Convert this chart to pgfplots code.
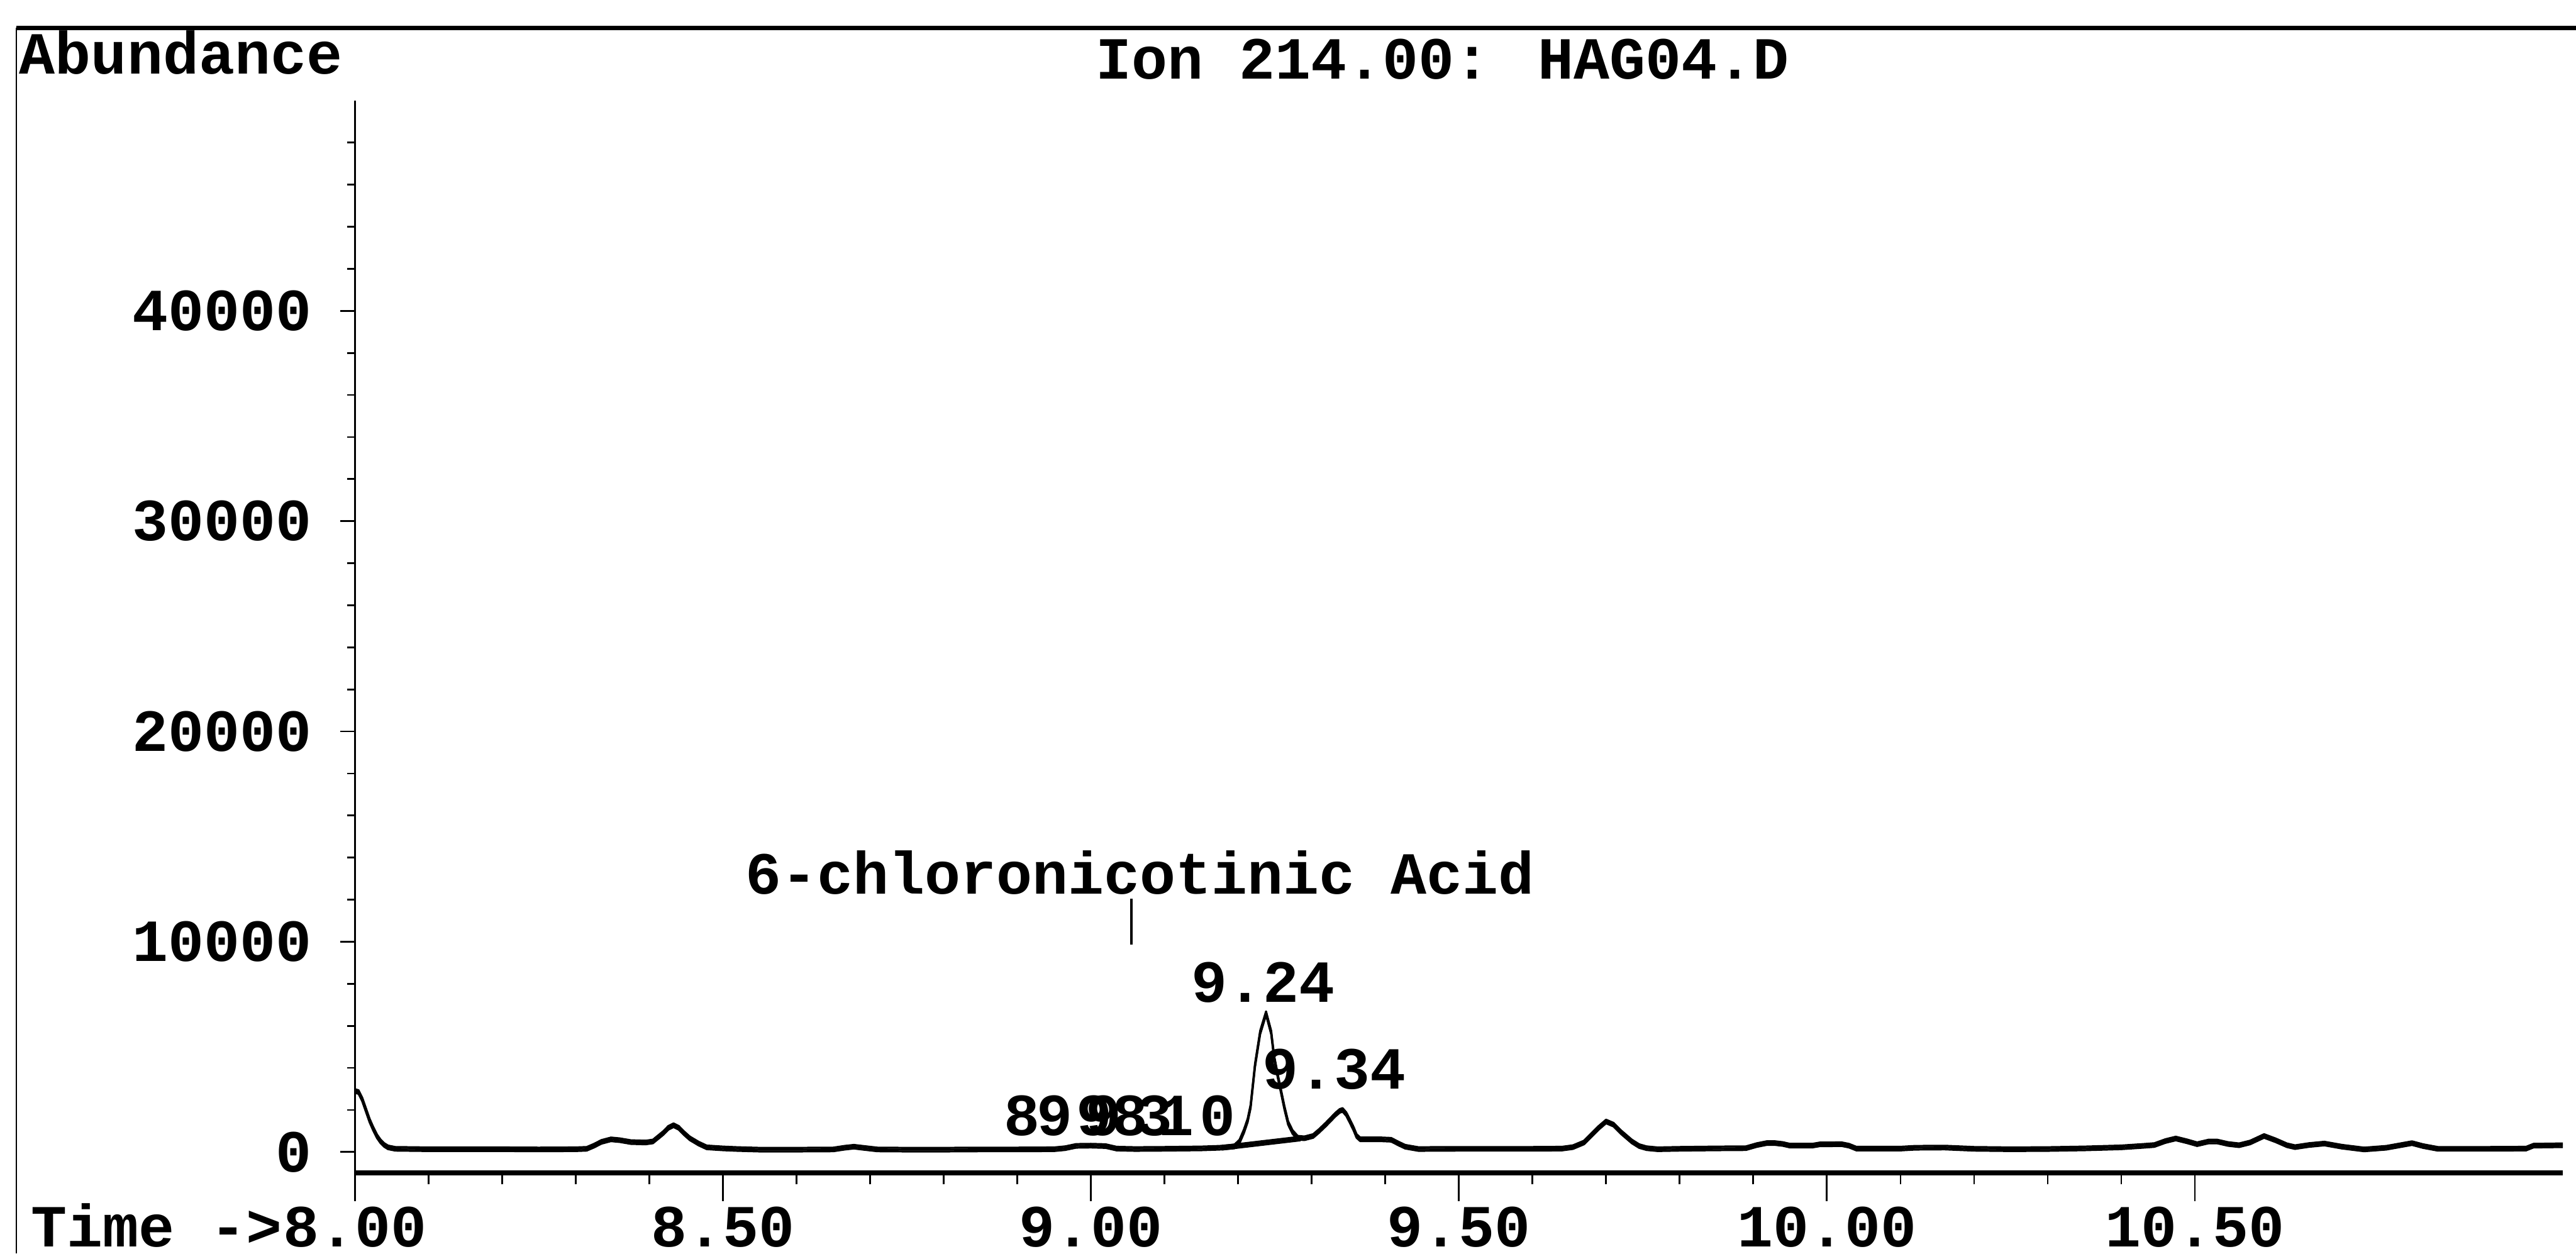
\documentclass[border=0pt]{standalone}
\usepackage{pgfplots}
\pgfplotsset{compat=1.18}
\usepackage{fontspec}
\setmainfont{Liberation Mono}
\begin{document}
\begin{tikzpicture}[font=\fontsize{20.7}{24}\selectfont\bfseries]
\path[use as bounding box] (0,0) rectangle (313.6mm,-152.6mm);
\begin{axis}[
  at={(43.2mm,-142.8mm)}, anchor=south west,
  scale only axis, width=268.8mm, height=130.56mm,
  xmin=8, xmax=11, ymin=-1000, ymax=50000,
  axis x line=bottom, axis y line=left, axis line style={-},
  x axis line style={line width=1.7pt},
  y axis line style={line width=0.6pt},
  xtick={8,8.5,9,9.5,10,10.5},
  xticklabels={8.00,8.50,9.00,9.50,10.00,10.50},
  minor x tick num=4,
  tick align=outside, major tick length=3.4mm, minor tick length=1.4mm,
  xtick style={line width=0.6pt, black},
  ytick={0,10000,20000,30000,40000},
  yticklabels={0,10000,20000,30000,40000},
  scaled y ticks=false, scaled x ticks=false,
  ytick style={draw=none},
  tick label style={font=\fontsize{20.7}{24}\selectfont\bfseries, /pgf/number format/assume math mode=true},
  xticklabel style={anchor=base, inner sep=0pt, yshift=-5.6mm},
  yticklabel style={anchor=east, inner sep=0pt, xshift=-1.8mm},
  clip=false,
]
\addplot[black, line width=0.7pt, line join=round,
  preaction={draw, line width=0.7pt, transform canvas={yshift=-0.22mm}},
  postaction={draw, line width=0.7pt, transform canvas={yshift=0.22mm}}] coordinates {
(8.000,2900) (8.005,2850) (8.010,2500) (8.015,2000) (8.020,1500) (8.025,1100)
(8.030,750) (8.035,500) (8.040,330) (8.045,220) (8.055,150) (8.10,130)
(8.15,130) (8.20,130) (8.25,120) (8.30,130) (8.315,150) (8.325,300)
(8.335,480) (8.348,600) (8.36,560) (8.375,470) (8.395,450) (8.405,500)
(8.412,700) (8.419,900) (8.426,1150) (8.433,1270) (8.440,1150) (8.447,900)
(8.455,650) (8.467,400) (8.478,220) (8.50,170) (8.52,140) (8.55,110)
(8.60,110) (8.65,120) (8.665,200) (8.678,250) (8.69,200) (8.71,120)
(8.75,110) (8.80,110) (8.85,120) (8.90,120) (8.95,130) (8.965,180)
(8.98,290) (9.00,300) (9.02,280) (9.035,160) (9.06,140) (9.10,150)
(9.15,170) (9.175,200) (9.195,260) (9.202,500) (9.208,990) (9.213,1500)
(9.217,2160) (9.223,4115) (9.230,5680) (9.238,6600) (9.245,5680) (9.249,4500)
(9.254,3600) (9.258,2940) (9.263,2100) (9.268,1380) (9.274,950) (9.281,680)
(9.290,650) (9.302,760) (9.310,1000) (9.319,1300) (9.326,1550) (9.332,1770)
(9.338,1950) (9.342,2000) (9.347,1800) (9.352,1460) (9.357,1100) (9.361,760)
(9.366,600) (9.38,600) (9.395,600) (9.408,580) (9.418,400) (9.427,250)
(9.445,140) (9.50,150) (9.55,150) (9.60,150) (9.64,160) (9.655,230)
(9.67,450) (9.68,800) (9.69,1150) (9.70,1450) (9.71,1300) (9.72,950)
(9.735,500) (9.745,280) (9.755,180) (9.77,130) (9.80,150) (9.85,170)
(9.89,180) (9.905,330) (9.918,420) (9.93,420) (9.94,380) (9.95,300)
(9.98,300) (9.99,360) (10.02,370) (10.03,300) (10.04,160) (10.10,160)
(10.12,200) (10.16,210) (10.20,150) (10.25,130) (10.30,140) (10.35,170)
(10.40,220) (10.43,290) (10.445,330) (10.46,520) (10.474,640) (10.49,500)
(10.503,370) (10.519,500) (10.53,500) (10.545,380) (10.56,320) (10.575,450)
(10.594,760) (10.61,550) (10.625,320) (10.636,230) (10.655,330) (10.676,400)
(10.70,250) (10.73,120) (10.76,200) (10.795,420) (10.81,280) (10.83,150)
(10.90,150) (10.95,160) (10.96,300) (11.00,320)
};
\addplot[black, line width=0.7pt,
  preaction={draw, line width=0.7pt, transform canvas={yshift=-0.22mm}},
  postaction={draw, line width=0.7pt, transform canvas={yshift=0.22mm}}] coordinates {(9.178,200) (9.285,640)};
% y ticks
\pgfplotsinvokeforeach{0,10000,20000,30000,40000}{
  \draw[line width=0.6pt] (axis cs:8,#1) -- ([xshift=-1.8mm]axis cs:8,#1);
}
\pgfplotsinvokeforeach{2000,4000,6000,8000,12000,14000,16000,18000,22000,24000,26000,28000,32000,34000,36000,38000,42000,44000,46000,48000}{
  \draw[line width=0.6pt] (axis cs:8,#1) -- ([xshift=-0.9mm]axis cs:8,#1);
}
% compound marker
\draw[line width=0.8pt] (axis cs:9.055,9860) -- (axis cs:9.055,12050);
\end{axis}
\begin{scope}[x=0.2mm,y=-0.2mm]
\draw[line width=1.5pt] (10,17) -- (1568,17);
\draw[line width=0.6pt] (10,17) -- (10,763);
\node[anchor=base west, inner sep=0pt] at (11.5,45) {Abundance};
\node[anchor=base, inner sep=0pt] at (878,48) {Ion 214.00: HAG04.D};
\node[anchor=base east, inner sep=0pt] at (172,759) {Time ->};
\node[anchor=base, inner sep=0pt] at (694,544) {6-chloronicotinic Acid};
\node[anchor=base, inner sep=0pt] at (769,610) {9.24};
\node[anchor=base, inner sep=0pt] at (812,663) {9.34};
\node[anchor=base, inner sep=0pt] at (622,691) {8};
\node[anchor=base, inner sep=0pt] at (642,691) {9};
\node[anchor=base, inner sep=0pt] at (666,691) {9};
\node[anchor=base, inner sep=0pt] at (672,691) {9};
\node[anchor=base, inner sep=0pt] at (688,691) {8};
\node[anchor=base, inner sep=0pt] at (703,691) {3};
\node[anchor=base, inner sep=0pt] at (716,691) {1};
\node[anchor=base, inner sep=0pt] at (741,691) {0};
\end{scope}
\end{tikzpicture}
\end{document}
